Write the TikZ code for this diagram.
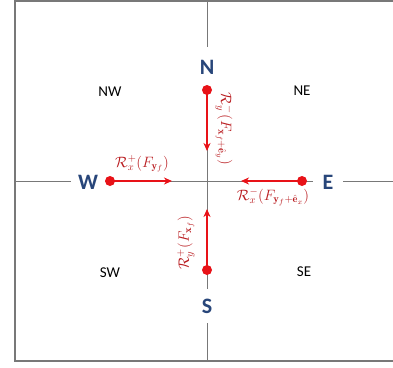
\RequirePackage{fix-cm}
\documentclass[tikz,border=0pt]{standalone}
\usepackage{fontspec}
\setsansfont{Carlito}
\usetikzlibrary{arrows.meta}
\definecolor{dirblue}{RGB}{40,70,122}
\definecolor{arrred}{RGB}{232,18,24}
\definecolor{lblred}{RGB}{185,28,32}
\definecolor{axgray}{RGB}{120,120,120}
\tikzset{
  dirlbl/.style={font=\sffamily\bfseries\fontsize{22}{24}\selectfont, text=dirblue, fill=white, inner sep=3pt},
  quadlbl/.style={font=\sffamily\fontsize{15}{17}\selectfont, inner sep=0pt},
  dotnode/.style={circle, fill=arrred, inner sep=0pt, minimum size=10pt},
  redarrow/.style={draw=arrred, line width=2pt, -{Stealth[length=8pt,width=7pt,inset=2.5pt]}},
  mathlbl/.style={text=lblred, font=\fontsize{15}{17}\selectfont, inner sep=0pt},
  axis/.style={draw=axgray, line width=1pt},
}
\begin{document}
\begin{tikzpicture}[x=1pt,y=-1pt]
\useasboundingbox (0,0) rectangle (393,367);
% frame
\coordinate (ftr) at (393,1);
\coordinate (ftl) at (15,1);
\coordinate (fbl) at (15,361);
\coordinate (fbr) at (393,361);
\draw[axis, line width=1.2pt] (ftr) -- (ftl) -- (fbl) -- (fbr);
% axes
\coordinate (vt) at (207,1);
\coordinate (vb) at (207,361);
\coordinate (hl) at (15,181);
\coordinate (hr) at (393,181);
\draw[axis] (vt) -- (vb);
\draw[axis] (hl) -- (hr);
% direction labels
\node[dirlbl, minimum height=40pt] (N) at (207,67) {N};
\node[dirlbl, minimum height=34pt] (S) at (207,306) {S};
\node[dirlbl, minimum width=34pt] (W) at (88,182) {W};
\node[dirlbl, minimum width=30pt] (E) at (328,182) {E};
% quadrant labels
\node[quadlbl] (NW) at (110,92) {NW};
\node[quadlbl] (NE) at (302,91) {NE};
\node[quadlbl] (SW) at (110,273) {SW};
\node[quadlbl] (SE) at (304,272) {SE};
% dots
\node[dotnode] (dN) at (207,90) {};
\node[dotnode] (dS) at (207,270) {};
\node[dotnode] (dW) at (110,181) {};
\node[dotnode] (dE) at (302,181) {};
% arrow ends
\coordinate (tN) at (207,151);
\coordinate (tS) at (207,209);
\coordinate (tW) at (172,181);
\coordinate (tE) at (241,181);
\draw[redarrow] (dN.center) -- (tN);
\draw[redarrow] (dS.center) -- (tS);
\draw[redarrow] (dW.center) -- (tW);
\draw[redarrow] (dE.center) -- (tE);
% math labels
\node[mathlbl, rotate=-90] (lN) at (224,129) {$\mathcal{R}_y^-(F_{\mathbf{x}_f+\hat{\mathbf{e}}_y})$};
\node[mathlbl, rotate=90] (lS) at (186,243) {$\mathcal{R}_y^+(F_{\mathbf{x}_f})$};
\node[mathlbl] (lW) at (142,164) {$\mathcal{R}_x^+(F_{\mathbf{y}_f})$};
\node[mathlbl] (lE) at (273,197) {$\mathcal{R}_x^-(F_{\mathbf{y}_f+\hat{\mathbf{e}}_x})$};
\end{tikzpicture}
\end{document}
